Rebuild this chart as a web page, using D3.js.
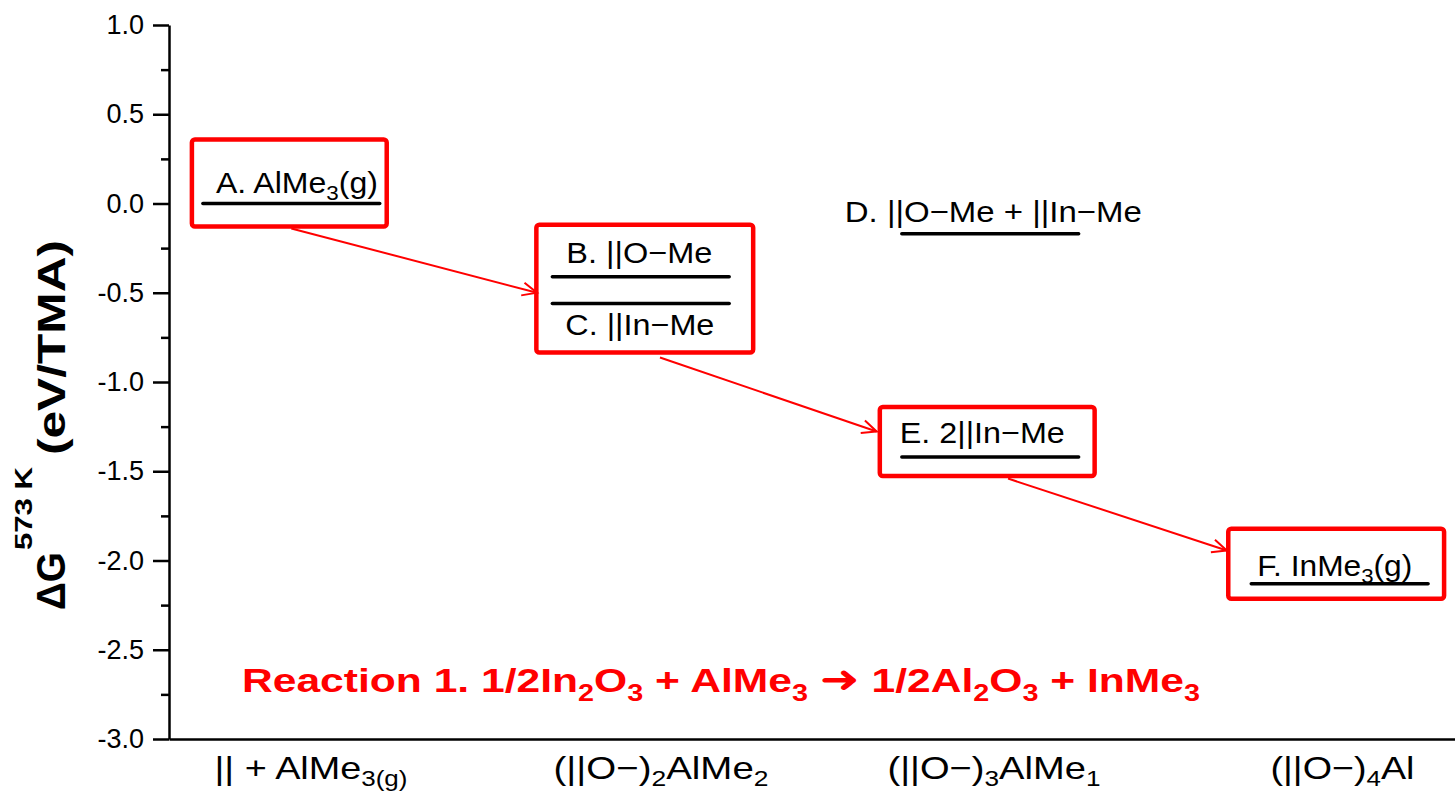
<!DOCTYPE html>
<html><head><meta charset="utf-8">
<script src="https://cdn.jsdelivr.net/npm/d3@7"></script>
<style>
body{margin:0;background:#fff;}
svg{display:block;font-family:"Liberation Sans",Arial,Helvetica,sans-serif;}
</style>
</head><body>
<svg id="chart" width="1455" height="792"></svg>
<script>
// ---------------- data ----------------
const categories = ["|| + AlMe_{3(g)}", "(||O\u2212)_{2}AlMe_{2}", "(||O\u2212)_{3}AlMe_{1}", "(||O\u2212)_{4}Al"];
const levelLabels = ["A. AlMe_{3}(g)", "B. ||O\u2212Me", "C. ||In\u2212Me", "D. ||O\u2212Me + ||In\u2212Me", "E. 2||In\u2212Me", "F. InMe_{3}(g)"];
const levelCategory = [0, 1, 1, 2, 2, 3];
const levelEnergy = [0.00, -0.41, -0.56, -0.17, -1.42, -2.13];
const yTicks = [1.0, 0.5, 0.0, -0.5, -1.0, -1.5, -2.0, -2.5, -3.0];
const yMinorTicks = [0.75, 0.25, -0.25, -0.75, -1.25, -1.75, -2.25, -2.75];
const boxedGroups = [[0], [1, 2], [4], [5]];
const arrowFrom = [[0.00, -0.14], [1.055, -0.863], [2.051, -1.541]];
const arrowTo = [[0.703, -0.50], [1.675, -1.277], [2.677, -1.944]];
const reactionParts = ["Reaction 1. 1/2In_{2}O_{3} + AlMe_{3} ", "\u279C", " 1/2Al_{2}O_{3} + InMe_{3}"];
const yTitleMain = "\u0394G";
const yTitleSup = "573 K";
const yTitleUnit = "(eV/TMA)";

// ---------------- layout ----------------
const svg = d3.select("#chart");
const x = d3.scaleLinear().domain([-0.35, 3.33]).range([169, 1455]);
const y = d3.scaleLinear().domain([-3, 1]).range([739, 25]);
const halfW = 0.253;
const labelLayout = [
  {dx: 13, dy: -11, w: 162}, {dx: 14, dy: -14, w: 146}, {dx: 13, dy: 32, w: 149},
  {dx: -57, dy: -12, w: 297}, {dx: -2, dy: -14, w: 165}, {dx: 6, dy: -8, w: 155}
];
const boxPads = [[11, 7, 64, 23], [16, 24, 52, 49], [22, 16, 50, 19], [23, 16, 55, 15]];
const catLayout = [{left: 214, w: 193}, {left: 553, w: 215}, {left: 887, w: 213}, {left: 1270, w: 144}];

function rich(sel, str, subSize, subDy) {
  let shifted = false;
  str.split(/(_\{[^}]*\})/).filter(s => s.length).forEach(p => {
    if (p.startsWith("_{")) {
      sel.append("tspan").attr("font-size", subSize).attr("dy", shifted ? 0 : subDy).text(p.slice(2, -1));
      shifted = true;
    } else {
      sel.append("tspan").attr("dy", shifted ? -subDy : 0).text(p);
      shifted = false;
    }
  });
  return shifted;
}

// ---------------- y axis ----------------
const yAxis = svg.append("g").attr("transform", `translate(${x(-0.35)},0)`)
  .call(d3.axisLeft(y).tickValues(yTicks).tickSize(16).tickSizeOuter(0).tickPadding(9)
    .tickFormat(d => d.toFixed(1)));
yAxis.select(".domain").attr("stroke", "#000").attr("stroke-width", 2.5);
yAxis.selectAll(".tick line").attr("stroke", "#000").attr("stroke-width", 2.5);
yAxis.selectAll(".tick text").attr("font-size", 27).attr("fill", "#000")
  .attr("font-family", "Liberation Sans, Arial, sans-serif");
const yMinor = svg.append("g").attr("transform", `translate(${x(-0.35)},0)`)
  .call(d3.axisLeft(y).tickValues(yMinorTicks).tickSize(8).tickSizeOuter(0).tickFormat(""));
yMinor.select(".domain").remove();
yMinor.selectAll(".tick line").attr("stroke", "#000").attr("stroke-width", 2.5);

// ---------------- x axis ----------------
const xAxis = svg.append("g").attr("transform", `translate(0,${y(-3)})`)
  .call(d3.axisBottom(x).tickValues([0, 1, 2, 3]).tickSize(0).tickSizeOuter(0).tickFormat(""));
xAxis.select(".domain").attr("stroke", "#000").attr("stroke-width", 2.5);
xAxis.selectAll(".tick").each(function(d, i) {
  const t = d3.select(this).append("text")
    .attr("x", catLayout[i].left - x(d)).attr("y", 40)
    .attr("text-anchor", "start").attr("fill", "#000")
    .attr("font-size", 32).attr("font-family", "Liberation Sans, Arial, sans-serif")
    .attr("textLength", catLayout[i].w).attr("lengthAdjust", "spacingAndGlyphs");
  rich(t, categories[i], 22, 7);
});

// ---------------- y title ----------------
const yt = svg.append("g").attr("transform", "translate(65,610) rotate(-90)");
yt.append("text").attr("x", 0).attr("y", 0).attr("font-size", 40).attr("font-weight", "bold")
  .attr("fill", "#000").attr("textLength", 58).attr("lengthAdjust", "spacingAndGlyphs").text(yTitleMain);
yt.append("text").attr("x", 60).attr("y", -33).attr("font-size", 23).attr("font-weight", "bold")
  .attr("fill", "#000").attr("textLength", 83).attr("lengthAdjust", "spacingAndGlyphs").text(yTitleSup);
yt.append("text").attr("x", 155).attr("y", 0).attr("font-size", 38).attr("font-weight", "bold")
  .attr("fill", "#000").attr("textLength", 215).attr("lengthAdjust", "spacingAndGlyphs").text(yTitleUnit);

// ---------------- levels ----------------
const levels = levelEnergy.map((e, i) => ({e, c: levelCategory[i], label: levelLabels[i], i}));
svg.append("g").selectAll("line").data(levels).join("line")
  .attr("x1", d => x(d.c - halfW)).attr("x2", d => x(d.c + halfW))
  .attr("y1", d => y(d.e)).attr("y2", d => y(d.e))
  .attr("stroke", "#000").attr("stroke-width", 3.5).attr("stroke-linecap", "round");
svg.append("g").selectAll("text").data(levels).join("text")
  .attr("x", d => x(d.c - halfW) + labelLayout[d.i].dx)
  .attr("y", d => y(d.e) + labelLayout[d.i].dy)
  .attr("font-size", 30).attr("fill", "#000")
  .attr("textLength", d => labelLayout[d.i].w).attr("lengthAdjust", "spacingAndGlyphs")
  .each(function(d) { rich(d3.select(this), d.label, 21, 7); });

// ---------------- boxes ----------------
svg.append("g").selectAll("rect").data(boxedGroups).join("rect")
  .attr("x", (g, k) => d3.min(g, i => x(levelCategory[i] - halfW)) - boxPads[k][0])
  .attr("y", (g, k) => d3.min(g, i => y(levelEnergy[i])) - boxPads[k][2])
  .attr("width", (g, k) => d3.max(g, i => x(levelCategory[i] + halfW)) + boxPads[k][1]
      - (d3.min(g, i => x(levelCategory[i] - halfW)) - boxPads[k][0]))
  .attr("height", (g, k) => d3.max(g, i => y(levelEnergy[i])) + boxPads[k][3]
      - (d3.min(g, i => y(levelEnergy[i])) - boxPads[k][2]))
  .attr("rx", 3).attr("fill", "none").attr("stroke", "#ff0000").attr("stroke-width", 4.5);

// ---------------- arrows ----------------
const arrows = arrowFrom.map((f, i) => ({f, t: arrowTo[i]}));
const ag = svg.append("g").attr("stroke", "#ff0000").attr("fill", "none").attr("stroke-width", 2);
ag.selectAll("line").data(arrows).join("line")
  .attr("x1", d => x(d.f[0])).attr("y1", d => y(d.f[1]))
  .attr("x2", d => x(d.t[0])).attr("y2", d => y(d.t[1]));
ag.selectAll("path").data(arrows).join("path")
  .attr("d", d => {
    const x1 = x(d.f[0]), y1 = y(d.f[1]), x2 = x(d.t[0]), y2 = y(d.t[1]);
    const a = Math.atan2(y2 - y1, x2 - x1), L = 16, h = 0.42;
    const p1 = [x2 - L * Math.cos(a - h), y2 - L * Math.sin(a - h)];
    const p2 = [x2 - L * Math.cos(a + h), y2 - L * Math.sin(a + h)];
    return `M${p1[0]},${p1[1]}L${x2},${y2}L${p2[0]},${p2[1]}`;
  });

// ---------------- reaction ----------------
const rt = svg.append("text").attr("x", 242).attr("y", 692)
  .attr("font-size", 34).attr("font-weight", "bold").attr("fill", "#ff0000")
  .attr("textLength", 958).attr("lengthAdjust", "spacingAndGlyphs");
let sh = rich(rt, reactionParts[0], 23, 9);
rt.append("tspan").attr("dy", sh ? -9 : 0).attr("font-family", "DejaVu Sans").attr("font-size", 38).text(reactionParts[1]);
rich(rt, reactionParts[2], 23, 9);
</script>
</body></html>
